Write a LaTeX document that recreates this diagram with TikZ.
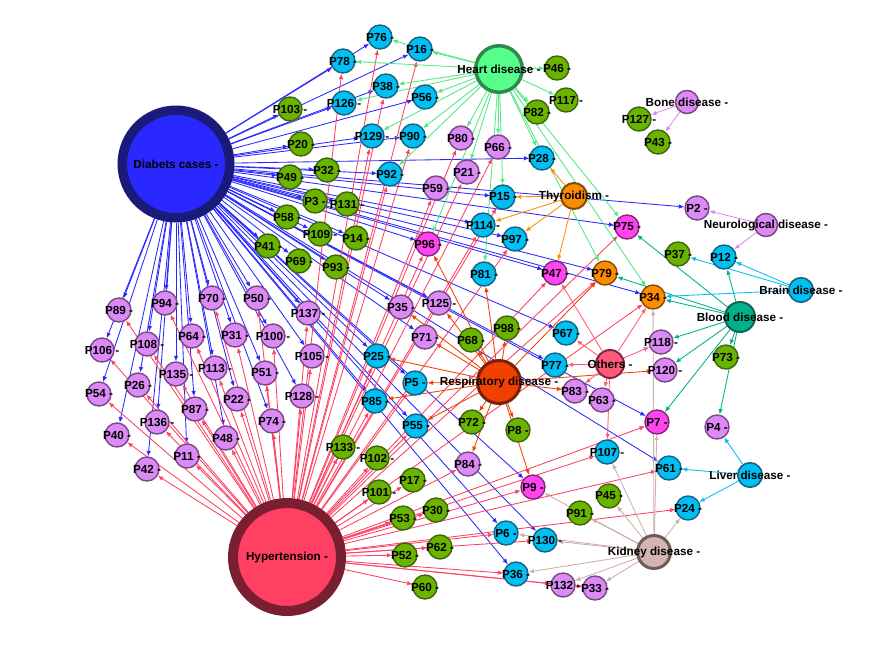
\documentclass[tikz,border=0pt]{standalone}
\usepackage{fontspec}
\setmainfont{Liberation Sans}
\usetikzlibrary{arrows.meta}
\pgfdeclarelayer{bg}
\pgfdeclarelayer{edges}
\pgfdeclarelayer{labels}
\pgfsetlayers{bg,edges,main,labels}
\definecolor{cyf}{RGB}{0,191,243}
\definecolor{cyb}{RGB}{22,100,130}
\definecolor{grf}{RGB}{106,180,0}
\definecolor{grb}{RGB}{62,102,14}
\definecolor{vif}{RGB}{220,138,245}
\definecolor{vib}{RGB}{122,72,132}
\definecolor{mgf}{RGB}{255,68,240}
\definecolor{mgb}{RGB}{130,40,120}
\definecolor{orf}{RGB}{255,140,0}
\definecolor{orb}{RGB}{130,76,12}
\definecolor{diaf}{RGB}{40,40,255}
\definecolor{diab}{RGB}{26,26,122}
\definecolor{hypf}{RGB}{255,64,98}
\definecolor{hypb}{RGB}{122,30,50}
\definecolor{hrtf}{RGB}{85,255,138}
\definecolor{hrtb}{RGB}{45,138,76}
\definecolor{resf}{RGB}{242,64,0}
\definecolor{resb}{RGB}{120,32,10}
\definecolor{othf}{RGB}{255,90,120}
\definecolor{othb}{RGB}{130,40,62}
\definecolor{bldf}{RGB}{0,178,140}
\definecolor{bldb}{RGB}{20,100,80}
\definecolor{kidf}{RGB}{210,180,176}
\definecolor{kidb}{RGB}{110,92,90}
\definecolor{kide}{RGB}{205,175,170}
\tikzset{
 pnode/.style={circle, inner sep=0pt, minimum size=24pt, line width=1.4pt},
 cy/.style={pnode, draw=cyb, fill=cyf},
 gr/.style={pnode, draw=grb, fill=grf},
 vi/.style={pnode, draw=vib, fill=vif},
 mg/.style={pnode, draw=mgb, fill=mgf},
 or/.style={pnode, draw=orb, fill=orf},
 lbl/.style={font=\fontsize{11.7}{13}\selectfont\bfseries, inner sep=0pt, text=black},
 ed/.style={line width=0.85pt, -{Latex[length=5.5pt,width=4.5pt]}},
}
\newcommand\pnd[5]{\node[#4] (#1) at (#2,#3) {};\begin{pgfonlayer}{labels}\node[lbl] (#1-t) at (#2,#3) {#5};\end{pgfonlayer}}
\begin{document}
\begin{tikzpicture}[x=1pt,y=-1pt]
\begin{pgfonlayer}{bg}
\fill[white] (0,0) rectangle (888,659);
\end{pgfonlayer}
\useasboundingbox (0,0) rectangle (888,659);
% hubs
\pnd{DIA}{176}{164}{circle, inner sep=0pt, minimum size=107.5pt, line width=9.5pt, draw=diab, fill=diaf}{Diabets cases -}
\pnd{HYP}{287}{557}{circle, inner sep=0pt, minimum size=108pt, line width=10pt, draw=hypb, fill=hypf}{Hypertension -}
\pnd{HRT}{499}{69}{circle, inner sep=0pt, minimum size=46.5pt, line width=3.5pt, draw=hrtb, fill=hrtf}{Heart disease -}
\pnd{RES}{499}{382}{circle, inner sep=0pt, minimum size=43pt, line width=3pt, draw=resb, fill=resf}{Respiratory disease -}
\pnd{THY}{574}{196}{circle, inner sep=0pt, minimum size=26pt, line width=2pt, draw=orb, fill=orf}{Thyroidism -}
\pnd{OTH}{610}{364}{circle, inner sep=0pt, minimum size=28pt, line width=2pt, draw=othb, fill=othf}{Others -}
\pnd{BLD}{740}{317}{circle, inner sep=0pt, minimum size=30pt, line width=2pt, draw=bldb, fill=bldf}{Blood disease -}
\pnd{BRN}{801}{290}{circle, inner sep=0pt, minimum size=24.5pt, line width=1.6pt, draw=cyb, fill=cyf}{Brain disease -}
\pnd{LIV}{750}{475}{circle, inner sep=0pt, minimum size=24.5pt, line width=1.6pt, draw=cyb, fill=cyf}{Liver disease -}
\pnd{KID}{654}{552}{circle, inner sep=0pt, minimum size=33pt, line width=3pt, draw=kidb, fill=kidf}{Kidney disease -}
\pnd{NEU}{766}{225}{circle, inner sep=0pt, minimum size=23pt, line width=1.5pt, draw=vib, fill=vif}{Neurological disease -}
\pnd{BON}{687}{102}{circle, inner sep=0pt, minimum size=23pt, line width=1.5pt, draw=vib, fill=vif}{Bone disease -}
% cyan
\pnd{P76}{380}{37}{cy}{P76 -}
\pnd{P16}{420}{49}{cy}{P16 -}
\pnd{P78}{343}{61}{cy}{P78 -}
\pnd{P38}{386}{86}{cy}{P38 -}
\pnd{P126}{344}{103}{cy}{P126 -}
\pnd{P56}{425}{97}{cy}{P56 -}
\pnd{P129}{372}{136}{cy}{P129 -}
\pnd{P90}{413}{136}{cy}{P90 -}
\pnd{P92}{390}{174}{cy}{P92 -}
\pnd{P28}{542}{158}{cy}{P28 -}
\pnd{P15}{503}{197}{cy}{P15 -}
\pnd{P114}{483}{225}{cy}{P114 -}
\pnd{P97}{515}{239}{cy}{P97 -}
\pnd{P81}{484}{274}{cy}{P81 -}
\pnd{P12}{724}{257}{cy}{P12 -}
\pnd{P67}{566}{333}{cy}{P67 -}
\pnd{P77}{555}{365}{cy}{P77 -}
\pnd{P25}{377}{356}{cy}{P25 -}
\pnd{P5}{415}{383}{cy}{P5 -}
\pnd{P85}{375}{401}{cy}{P85 -}
\pnd{P55}{416}{426}{cy}{P55 -}
\pnd{P107}{607}{452}{cy}{P107 -}
\pnd{P61}{669}{468}{cy}{P61 -}
\pnd{P24}{688}{508}{cy}{P24 -}
\pnd{P6}{506}{533}{cy}{P6 -}
\pnd{P130}{545}{540}{cy}{P130 -}
\pnd{P36}{516}{574}{cy}{P36 -}
% green
\pnd{P103}{290}{109}{gr}{P103 -}
\pnd{P20}{301}{144}{gr}{P20 -}
\pnd{P49}{290}{177}{gr}{P49 -}
\pnd{P32}{327}{170}{gr}{P32 -}
\pnd{P3}{315}{201}{gr}{P3 -}
\pnd{P131}{347}{204}{gr}{P131 -}
\pnd{P58}{287}{217}{gr}{P58 -}
\pnd{P109}{320}{234}{gr}{P109 -}
\pnd{P14}{356}{238}{gr}{P14 -}
\pnd{P41}{268}{246}{gr}{P41 -}
\pnd{P69}{299}{261}{gr}{P69 -}
\pnd{P93}{336}{267}{gr}{P93 -}
\pnd{P46}{557}{68}{gr}{P46 -}
\pnd{P117}{566}{100}{gr}{P117 -}
\pnd{P82}{537}{112}{gr}{P82 -}
\pnd{P37}{678}{254}{gr}{P37 -}
\pnd{P98}{507}{328}{gr}{P98 -}
\pnd{P68}{471}{340}{gr}{P68 -}
\pnd{P72}{472}{422}{gr}{P72 -}
\pnd{P8}{518}{430}{gr}{P8 -}
\pnd{P73}{726}{357}{gr}{P73 -}
\pnd{P45}{609}{496}{gr}{P45 -}
\pnd{P91}{580}{513}{gr}{P91 -}
\pnd{P133}{343}{447}{gr}{P133 -}
\pnd{P102}{377}{458}{gr}{P102 -}
\pnd{P17}{413}{480}{gr}{P17 -}
\pnd{P101}{379}{492}{gr}{P101 -}
\pnd{P30}{436}{510}{gr}{P30 -}
\pnd{P53}{403}{518}{gr}{P53 -}
\pnd{P62}{440}{547}{gr}{P62 -}
\pnd{P52}{405}{555}{gr}{P52 -}
\pnd{P60}{425}{587}{gr}{P60 -}
\pnd{P127}{639}{119}{gr}{P127 -}
\pnd{P43}{658}{142}{gr}{P43 -}
% violet
\pnd{P80}{461}{138}{vi}{P80 -}
\pnd{P66}{498}{147}{vi}{P66 -}
\pnd{P21}{467}{172}{vi}{P21 -}
\pnd{P59}{436}{188}{vi}{P59 -}
\pnd{P2}{697}{208}{vi}{P2 -}
\pnd{P89}{119}{310}{vi}{P89 -}
\pnd{P94}{165}{303}{vi}{P94 -}
\pnd{P70}{212}{298}{vi}{P70 -}
\pnd{P50}{257}{298}{vi}{P50 -}
\pnd{P64}{192}{336}{vi}{P64 -}
\pnd{P31}{235}{335}{vi}{P31 -}
\pnd{P100}{273}{336}{vi}{P100 -}
\pnd{P106}{102}{350}{vi}{P106 -}
\pnd{P108}{147}{344}{vi}{P108 -}
\pnd{P113}{215}{368}{vi}{P113 -}
\pnd{P135}{176}{374}{vi}{P135 -}
\pnd{P51}{265}{373}{vi}{P51 -}
\pnd{P26}{138}{385}{vi}{P26 -}
\pnd{P54}{99}{394}{vi}{P54 -}
\pnd{P22}{237}{399}{vi}{P22 -}
\pnd{P87}{195}{409}{vi}{P87 -}
\pnd{P136}{157}{422}{vi}{P136 -}
\pnd{P74}{272}{421}{vi}{P74 -}
\pnd{P40}{117}{435}{vi}{P40 -}
\pnd{P48}{226}{438}{vi}{P48 -}
\pnd{P11}{187}{456}{vi}{P11 -}
\pnd{P42}{147}{469}{vi}{P42 -}
\pnd{P137}{308}{313}{vi}{P137 -}
\pnd{P105}{312}{356}{vi}{P105 -}
\pnd{P128}{302}{396}{vi}{P128 -}
\pnd{P35}{401}{307}{vi}{P35 -}
\pnd{P125}{439}{303}{vi}{P125 -}
\pnd{P71}{425}{337}{vi}{P71 -}
\pnd{P83}{575}{391}{vi}{P83 -}
\pnd{P63}{602}{400}{vi}{P63 -}
\pnd{P118}{661}{342}{vi}{P118 -}
\pnd{P120}{665}{370}{vi}{P120 -}
\pnd{P4}{717}{427}{vi}{P4 -}
\pnd{P84}{468}{464}{vi}{P84 -}
\pnd{P132}{563}{585}{vi}{P132 -}
\pnd{P33}{595}{588}{vi}{P33 -}
% magenta
\pnd{P96}{428}{244}{mg}{P96 -}
\pnd{P75}{627}{227}{mg}{P75 -}
\pnd{P47}{555}{273}{mg}{P47 -}
\pnd{P7}{657}{422}{mg}{P7 -}
\pnd{P9}{533}{487}{mg}{P9 -}
% orange
\pnd{P79}{605}{273}{or}{P79 -}
\pnd{P34}{653}{297}{or}{P34 -}
% edges
\begin{pgfonlayer}{edges}
\foreach \t in {P78,P76,P16,P38,P126,P56,P129,P90,P92,P28,P15,P2,P75,P114,P97,P96,P47,P79,P34,P67,P77,P7,P61,P9,P130,P6,P36,P25,P5,P85,P55,P35,P125,P71,P137,P105,P128,P100,P51,P74,P50,P31,P22,P70,P113,P48,P64,P87,P94,P135,P108,P136,P26,P89,P106,P54,P40,P42,P11,P103,P20,P49,P32,P3,P131,P58,P109,P14,P41,P69,P93}
  \draw[ed, draw=diaf] (DIA) -- (\t);
\foreach \t in {P76,P16,P78,P38,P129,P90,P92,P80,P66,P21,P59,P96,P114,P15,P97,P47,P79,P75,P34,P7,P107,P61,P24,P9,P6,P130,P36,P132,P33,P84,P17,P53,P101,P102,P133,P30,P62,P52,P60,P25,P5,P85,P55,P137,P105,P128,P89,P94,P70,P50,P64,P31,P100,P106,P108,P113,P135,P51,P26,P54,P22,P87,P136,P74,P40,P48,P11,P42}
  \draw[ed, draw=hypf] (HYP) -- (\t);
\foreach \t in {P16,P76,P78,P38,P126,P56,P129,P90,P92,P80,P21,P66,P28,P46,P117,P82,P15,P81,P96,P75,P79,P34}
  \draw[ed, draw=hrtf!92!black] (HRT) -- (\t);
\foreach \t in {P96,P125,P35,P71,P25,P5,P85,P55,P72,P8,P9,P84,P81,P98,P68,P83,P120,P79}
  \draw[ed, draw=resf] (RES) -- (\t);
\foreach \t in {P28,P15,P114,P97,P47}
  \draw[ed, draw=orf] (THY) -- (\t);
\foreach \t in {P77,P67,P83,P63,P107,P118,P34,P47}
  \draw[ed, draw=othf] (OTH) -- (\t);
\foreach \t in {P75,P79,P34,P12,P118,P120,P7,P73,P4}
  \draw[ed, draw=bldf] (BLD) -- (\t);
\foreach \t in {P12,P37,P34}
  \draw[ed, draw=cyf] (BRN) -- (\t);
\foreach \t in {P61,P24,P4}
  \draw[ed, draw=cyf] (LIV) -- (\t);
\foreach \t in {P107,P45,P91,P24,P33,P132,P36,P130,P6,P9,P7,P34}
  \draw[ed, draw=kide] (KID) -- (\t);
\foreach \t in {P2,P12}
  \draw[ed, draw=vif] (NEU) -- (\t);
\foreach \t in {P127,P43}
  \draw[ed, draw=vif] (BON) -- (\t);
\end{pgfonlayer}
\end{tikzpicture}
\end{document}
